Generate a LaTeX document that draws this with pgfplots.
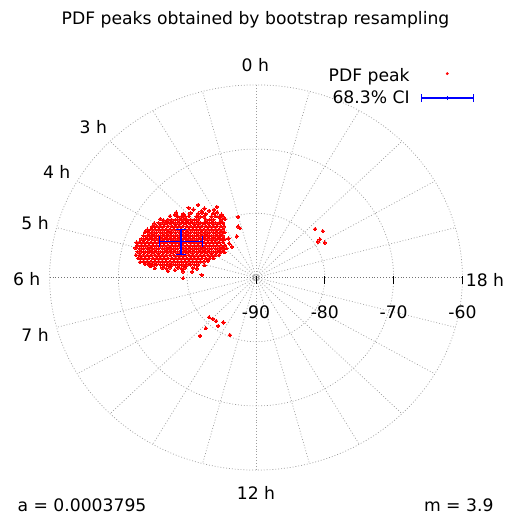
\documentclass[border=0pt]{standalone}
\usepackage{pgfplots}
\pgfplotsset{compat=1.18}
\usepackage{fontspec}
\setmainfont{DejaVu Sans}
\definecolor{gridc}{gray}{0.62}
\definecolor{peakred}{RGB}{255,0,0}
\definecolor{ciblue}{RGB}{0,0,255}
\pgfplotsset{polarframe/.style={width=505pt, height=518pt, scale only axis,
  xmin=-37.21, xmax=36.19, ymin=-37.46, ymax=43.22, hide axis, clip=false}}
\begin{document}
\begin{tikzpicture}[font=\fontsize{17.2}{20}\selectfont]
\begin{axis}[name=ax, polarframe]
% ---- polar grid ----
\pgfplotsinvokeforeach{10,20,30}{
  \draw[gridc, line width=0.7pt, dash pattern=on 0.9pt off 2pt] (axis cs:0,0) ellipse [x radius=#1, y radius=#1];
}
\pgfplotsinvokeforeach{15,30,...,165,195,210,...,345}{
  \draw[gridc, line width=0.7pt, dash pattern=on 0.9pt off 2pt] (axis cs:{0.45*cos(#1)},{0.45*sin(#1)}) -- (axis cs:{30*cos(#1)},{30*sin(#1)});
}
\draw[black!55, line width=0.7pt, dash pattern=on 0.9pt off 2pt] (axis cs:-30,0) -- (axis cs:30,0);
\draw[gridc, line width=0.6pt] (axis cs:0,0) ellipse [x radius=0.42, y radius=0.42];
\draw[gridc, line width=0.6pt] (axis cs:0,0) ellipse [x radius=0.2, y radius=0.2];
\pgfplotsinvokeforeach{0,10,20,30}{
  \draw[black, line width=0.8pt] (axis cs:#1,0.2) -- (axis cs:#1,-1.0);
}
% ---- labels ----
\node[anchor=base] at (axis cs:-0.07,39.45) {PDF peaks obtained by bootstrap resampling};
\node[anchor=base] at (axis cs:-0.1,32.13) {0 h};
\node[anchor=base] at (axis cs:-23.65,22.37) {3 h};
\node[anchor=base] at (axis cs:-28.97,15.42) {4 h};
\node[anchor=base] at (axis cs:-32.12,7.48) {5 h};
\node[anchor=base] at (axis cs:-33.33,-1.25) {6 h};
\node[anchor=base] at (axis cs:-32.12,-9.92) {7 h};
\node[anchor=base] at (axis cs:33.28,-1.36) {18 h};
\node[anchor=base] at (axis cs:0,-34.53) {12 h};
\node[anchor=base] at (axis cs:0,-6.34) {-90};
\node[anchor=base] at (axis cs:10,-6.34) {-80};
\node[anchor=base] at (axis cs:20,-6.34) {-70};
\node[anchor=base] at (axis cs:30,-6.34) {-60};
\node[anchor=base west] at (axis cs:-35.17,-36.40) {a = 0.0003795};
\node[anchor=base east] at (axis cs:35.03,-36.40) {m = 3.9};
% ---- PDF peaks ----
\addplot[peakred, only marks, mark=*, mark size=1.7pt,
  mark options={draw=peakred, fill=peakred, line width=0pt}]
coordinates {
(-9.1,10.6)(-8.4,11.3)(-7.5,10.75)(-6.8,10.4)(-6.1,10.55)(-5.7,11.0)(-7.9,10.35)(-9.8,10.85)(-11.8,9.75)(-13.4,8.85)
(-11.6,10.1)(-10.6,9.9)(-9.5,10.05)(-8.4,9.95)(-7.85,10.1)(-7.3,9.9)(-6.2,10.0)(-5.65,10.15)(-5.0,9.8)
(-12.5,9.55)(-11.4,9.5)(-10.85,9.45)(-10.3,9.5)(-9.75,9.55)(-8.65,9.5)(-8.1,9.45)(-7.55,9.5)(-6.45,9.5)(-5.9,9.55)(-5.35,9.45)(-4.8,9.5)
(-13.9,9.1)(-12.8,9.0)(-12.25,9.0)(-11.7,9.0)(-11.15,9.0)(-10.6,9.0)(-10.05,9.0)(-9.5,9.0)(-8.95,9.0)(-8.4,9.0)(-7.3,9.0)(-6.75,9.0)(-6.2,9.0)(-5.1,9.0)(-4.5,9.1)
(-14.8,8.4)(-14.15,8.5)(-13.6,8.5)(-13.05,8.5)(-12.5,8.5)(-11.95,8.5)(-11.4,8.5)(-10.85,8.5)(-10.3,8.5)(-9.75,8.5)(-9.2,8.5)(-8.65,8.5)(-8.1,8.5)(-7.55,8.5)(-7.0,8.5)(-6.45,8.5)(-5.9,8.5)(-5.35,8.5)(-4.8,8.5)
(-15.1,7.9)(-14.45,8)(-13.9,8)(-13.35,8)(-12.8,8)(-12.25,8)(-11.7,8)(-11.15,8)(-10.6,8)(-10.05,8)(-9.5,8)(-8.95,8)(-8.4,8)(-7.85,8)(-7.3,8)(-6.75,8)(-6.2,8)(-5.65,8)(-5.1,8)(-4.65,7.95)
(-15.8,7.45)(-15.25,7.5)(-14.7,7.5)(-14.15,7.5)(-13.6,7.5)(-13.05,7.5)(-12.5,7.5)(-11.95,7.5)(-11.4,7.5)(-10.85,7.5)(-10.3,7.5)(-9.75,7.5)(-9.2,7.5)(-8.65,7.5)(-8.1,7.5)(-7.55,7.5)(-7.0,7.5)(-6.45,7.5)(-5.9,7.5)(-5.35,7.5)(-4.8,7.5)
(-16.15,7.05)(-15.55,7)(-15.0,7)(-14.45,7)(-13.9,7)(-13.35,7)(-12.8,7)(-12.25,7)(-11.7,7)(-11.15,7)(-10.6,7)(-10.05,7)(-9.5,7)(-8.95,7)(-8.4,7)(-7.85,7)(-7.3,7)(-6.75,7)(-6.2,7)(-5.65,7)(-5.1,7)(-4.6,7.05)
(-16.35,6.5)(-15.8,6.5)(-15.25,6.5)(-14.7,6.5)(-14.15,6.5)(-13.6,6.5)(-13.05,6.5)(-12.5,6.5)(-11.95,6.5)(-11.4,6.5)(-10.85,6.5)(-10.3,6.5)(-9.75,6.5)(-9.2,6.5)(-8.65,6.5)(-8.1,6.5)(-7.55,6.5)(-7.0,6.5)(-6.45,6.5)(-5.9,6.5)(-5.35,6.5)(-4.8,6.5)
(-16.65,6)(-16.1,6)(-15.55,6)(-15.0,6)(-14.45,6)(-13.9,6)(-13.35,6)(-12.8,6)(-12.25,6)(-11.7,6)(-11.15,6)(-10.6,6)(-10.05,6)(-9.5,6)(-8.95,6)(-8.4,6)(-7.85,6)(-7.3,6)(-6.75,6)(-6.2,6)(-5.65,6)(-5.1,6)(-4.6,5.95)
(-17.35,5.45)(-16.9,5.5)(-16.35,5.5)(-15.8,5.5)(-15.25,5.5)(-14.7,5.5)(-14.15,5.5)(-13.6,5.5)(-13.05,5.5)(-12.5,5.5)(-11.95,5.5)(-11.4,5.5)(-10.85,5.5)(-10.3,5.5)(-9.75,5.5)(-9.2,5.5)(-8.65,5.5)(-8.1,5.5)(-7.55,5.5)(-7.0,5.5)(-6.45,5.5)(-5.9,5.5)(-5.35,5.5)(-4.8,5.5)
(-17.2,5)(-16.65,5)(-16.1,5)(-15.55,5)(-15.0,5)(-14.45,5)(-13.9,5)(-13.35,5)(-12.8,5)(-12.25,5)(-11.7,5)(-11.15,5)(-10.6,5)(-10.05,5)(-9.5,5)(-8.95,5)(-8.4,5)(-7.85,5)(-7.3,5)(-6.75,5)(-6.2,5)(-5.65,5)(-5.1,5)(-4.55,5)
(-17.5,4.6)(-16.9,4.5)(-16.35,4.5)(-15.8,4.5)(-15.25,4.5)(-14.7,4.5)(-14.15,4.5)(-13.6,4.5)(-13.05,4.5)(-12.5,4.5)(-11.95,4.5)(-11.4,4.5)(-10.85,4.5)(-10.3,4.5)(-9.75,4.5)(-9.2,4.5)(-8.65,4.5)(-8.1,4.5)(-7.55,4.5)(-7.0,4.5)(-6.45,4.5)(-5.9,4.5)(-5.35,4.5)(-4.8,4.5)(-4.3,4.55)
(-17.2,4)(-16.65,4)(-16.1,4)(-15.55,4)(-15.0,4)(-14.45,4)(-13.9,4)(-13.35,4)(-12.8,4)(-12.25,4)(-11.7,4)(-11.15,4)(-10.6,4)(-10.05,4)(-9.5,4)(-8.95,4)(-8.4,4)(-7.85,4)(-7.3,4)(-6.75,4)(-6.2,4)(-5.65,4)(-5.1,4)(-4.6,3.95)
(-17.45,3.5)(-16.9,3.5)(-16.35,3.5)(-15.8,3.5)(-15.25,3.5)(-14.7,3.5)(-14.15,3.5)(-13.6,3.5)(-13.05,3.5)(-12.5,3.5)(-11.95,3.5)(-11.4,3.5)(-10.85,3.5)(-10.3,3.5)(-9.75,3.5)(-9.2,3.5)(-8.65,3.5)(-8.1,3.5)(-7.55,3.5)(-7.0,3.5)(-6.45,3.5)(-5.9,3.5)(-5.35,3.5)
(-17.1,3)(-16.65,3)(-16.1,3)(-15.55,3)(-15.0,3)(-14.45,3)(-13.9,3)(-13.35,3)(-12.8,3)(-12.25,3)(-11.7,3)(-11.15,3)(-10.6,3)(-10.05,3)(-9.5,3)(-8.95,3)(-8.4,3)(-7.85,3)(-7.3,3)(-6.75,3)(-6.2,3)
(-16.85,2.4)(-16.35,2.5)(-15.8,2.5)(-15.25,2.5)(-14.7,2.5)(-14.15,2.5)(-13.6,2.5)(-13.05,2.5)(-12.5,2.5)(-11.95,2.5)(-11.4,2.5)(-10.85,2.5)(-10.3,2.5)(-9.75,2.5)(-9.2,2.5)(-8.65,2.5)(-8.1,2.5)(-7.55,2.5)(-7.0,2.6)
(-16.1,2.1)(-15.55,2)(-15.0,2)(-14.45,2)(-13.9,2)(-13.35,2)(-12.8,2)(-12.25,2)(-11.7,2)(-11.15,2)(-10.6,2)(-10.05,2)(-9.5,2)(-8.95,2)(-8.4,2)
(-14.7,1.45)(-13.6,1.5)(-13.05,1.4)(-12.5,1.55)(-11.4,1.5)(-10.85,1.4)(-10.3,1.55)(-9.2,1.5)(-15.4,1.75)
(-12.8,1.0)(-11.8,1.15)(-10.6,0.95)(-9.3,0.9)(-8.6,1.4)
(-10.6,-0.1)(-7.9,0.4)(-7.5,1.9)(-2.6,9.45)(-2.35,7.7)(-2.6,7.95)(-2.8,6.4)(-4.0,6.1)(-3.5,4.8)(-3.9,5.3)
(8.6,7.55)(9.7,7.24)(9.3,5.95)(8.97,5.58)(10.0,5.42)
(-6.83,-6.2)(-6.3,-6.46)(-5.8,-6.78)(-4.75,-6.98)(-5.5,-7.55)(-7.3,-7.9)(-8.14,-9.1)(-3.8,-8.96)
};
\end{axis}
% ---- overlay axis (same frame): 68.3% CI and legend ----
\begin{axis}[polarframe,
  legend plot pos=right, legend cell align=right,
  legend style={at={(axis cs:31.7,32.6)}, anchor=north east, draw=none, fill=none,
    inner sep=0pt, row sep=8pt, column sep=11pt, font=\fontsize{17.2}{20}\selectfont,
    nodes={inner sep=0pt}}]
\addlegendimage{legend image code/.code={\path[draw=none] (0pt,0pt) -- (52pt,0pt); \fill[peakred] (26pt,2pt) circle[radius=1.2pt];}}
\addlegendentry{PDF peak}
\addlegendimage{legend image code/.code={
    \draw[ciblue, line width=1.2pt] (0pt,0pt) -- (52pt,0pt);
    \draw[ciblue, line width=1.2pt] (0pt,-4pt) -- (0pt,4pt);
    \draw[ciblue, line width=1.2pt] (52pt,-4pt) -- (52pt,4pt);
    \draw[ciblue, line width=1.2pt] (26pt,-2pt) -- (26pt,2pt);}}
\addlegendentry{68.3\% CI}
% centre (-10.9, 5.6), x from -14.0 to -7.8, y from 3.6 to 7.5
\addplot[ciblue, line width=1.5pt, mark=none, forget plot] coordinates {(-10.9,5.6) (-14.0,5.6)};
\addplot[ciblue, line width=1.5pt, mark=none, forget plot] coordinates {(-10.9,5.6) (-7.8,5.6)};
\addplot[ciblue, line width=1.5pt, mark=none, forget plot] coordinates {(-10.9,3.6) (-10.9,7.5)};
\addplot[ciblue, line width=1.5pt, mark=none, forget plot] coordinates {(-14.0,4.8) (-14.0,6.4)};
\addplot[ciblue, line width=1.5pt, mark=none, forget plot] coordinates {(-7.8,4.8) (-7.8,6.4)};
\addplot[ciblue, line width=1.5pt, mark=none, forget plot] coordinates {(-11.6,3.6) (-10.2,3.6)};
\addplot[ciblue, line width=1.5pt, mark=none, forget plot] coordinates {(-11.6,7.5) (-10.2,7.5)};
\end{axis}
\pgfresetboundingbox
\path[use as bounding box] (ax.south west) rectangle (ax.north east);
\end{tikzpicture}
\end{document}
